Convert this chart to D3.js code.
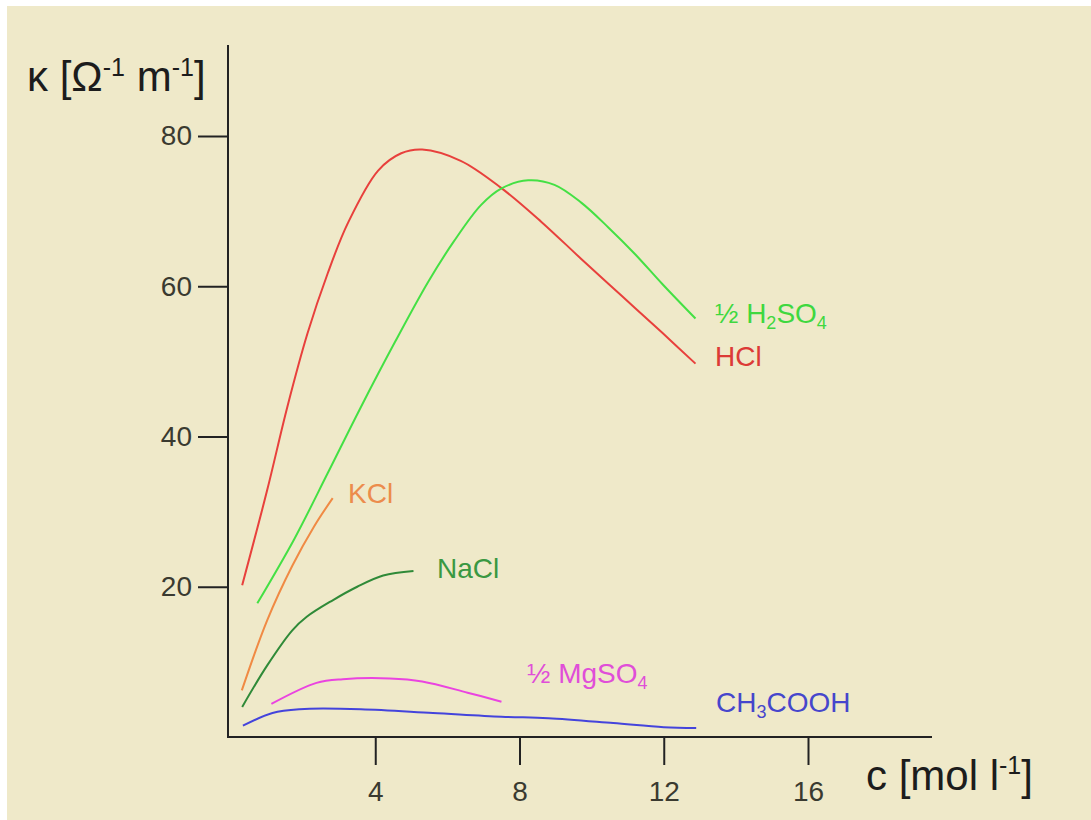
<!DOCTYPE html>
<html>
<head>
<meta charset="utf-8">
<script src="https://cdn.jsdelivr.net/npm/d3@7"></script>
<style>
  body { margin: 0; background: #ffffff; }
  svg { display: block; font-family: "Liberation Sans", Arial, sans-serif; }
</style>
</head>
<body>
<div id="chart"></div>
<script>
// concentration c [mol/l] and conductivity kappa
const conc_hcl = [0.31, 1.0, 1.56, 2.12, 2.68, 3.24, 4.08, 4.72, 5.3, 6.37, 7.49, 8.6, 9.72, 10.84, 11.96, 12.88];
const kappa_hcl = [20.2, 32.8, 43.9, 53.7, 61.7, 68.4, 75.4, 77.7, 78.2, 76.7, 73.1, 68.6, 63.6, 58.7, 53.8, 49.7];

const conc_h2so4 = [0.73, 1.76, 2.68, 3.6, 4.55, 5.47, 6.17, 6.93, 7.49, 8.24, 8.97, 9.72, 10.47, 11.2, 11.96, 12.88];
const kappa_h2so4 = [17.8, 26.4, 35.1, 43.9, 52.6, 60.6, 65.9, 70.8, 73.0, 74.1, 73.5, 71.1, 67.8, 64.3, 60.3, 55.7];

const conc_kcl = [0.3, 1.0, 1.7, 2.3, 2.82];
const kappa_kcl = [6.2, 15.5, 22.8, 28.0, 31.8];

const conc_nacl = [0.31, 1.0, 1.7, 2.1, 2.82, 3.5, 4.22, 5.06];
const kappa_nacl = [4.0, 9.5, 14.2, 16.0, 18.2, 20.0, 21.5, 22.1];

const conc_mgso4 = [1.12, 2.37, 3.1, 4.4, 5.3, 6.56, 7.5];
const kappa_mgso4 = [4.4, 7.2, 7.7, 7.8, 7.4, 5.9, 4.7];

const conc_acetic = [0.33, 1.15, 1.9, 3.6, 5.6, 7.5, 8.8, 10.6, 12.0, 12.9];
const kappa_acetic = [1.5, 3.2, 3.7, 3.7, 3.2, 2.7, 2.5, 1.85, 1.3, 1.2];

const x_ticks = [4, 8, 12, 16];
const y_ticks = [20, 40, 60, 80];

let config_size = {
    svg_width: 1091,
    svg_height: 820,
};

let series = [
    {name: "hcl", c: conc_hcl, k: kappa_hcl, color: "#e8403c", text: "#dc3a36",
     label: [{t: "HCl"}], lx: 715, ly: 366},
    {name: "h2so4", c: conc_h2so4, k: kappa_h2so4, color: "#44e044", text: "#3fd83f",
     label: [{t: "½ H"}, {t: "2", sub: true}, {t: "SO"}, {t: "4", sub: true}], lx: 715, ly: 323},
    {name: "kcl", c: conc_kcl, k: kappa_kcl, color: "#f08a44", text: "#ec8c4c",
     label: [{t: "KCl"}], lx: 348, ly: 503},
    {name: "nacl", c: conc_nacl, k: kappa_nacl, color: "#2f8a38", text: "#3a9842",
     label: [{t: "NaCl"}], lx: 437, ly: 578},
    {name: "mgso4", c: conc_mgso4, k: kappa_mgso4, color: "#ea44e0", text: "#e04ed8",
     label: [{t: "½ MgSO"}, {t: "4", sub: true}], lx: 527, ly: 683},
    {name: "acetic", c: conc_acetic, k: kappa_acetic, color: "#4444dc", text: "#4646cc",
     label: [{t: "CH"}, {t: "3", sub: true}, {t: "COOH"}], lx: 716, ly: 712},
];

let svg = d3.select("#chart")
    .append("svg")
    .attr("width", config_size.svg_width).attr("height", config_size.svg_height);

// beige panel with thin white margin on top and left
svg.append("rect").attr("x", 7).attr("y", 6)
    .attr("width", config_size.svg_width - 7).attr("height", config_size.svg_height - 6)
    .attr("fill", "#efe9c9");

let x = d3.scaleLinear().domain([0, 16]).range([231, 808]);
let y = d3.scaleLinear().domain([0, 80]).range([737, 136]);

// x axis
let x_axis = svg.append("g")
    .attr("transform", `translate(0,${y(0)})`)
    .call(d3.axisBottom(x).tickValues(x_ticks).tickSize(28).tickPadding(16).tickSizeOuter(0));
x_axis.select(".domain").remove();
x_axis.append("line").attr("x1", 228).attr("x2", 932).attr("stroke", "#222").attr("stroke-width", 2);

// y axis
let y_axis = svg.append("g")
    .attr("transform", `translate(228,0)`)
    .call(d3.axisLeft(y).tickValues(y_ticks).tickSize(30).tickPadding(6).tickSizeOuter(0));
y_axis.select(".domain").remove();
y_axis.append("line").attr("y1", 45).attr("y2", y(0) + 1).attr("stroke", "#222").attr("stroke-width", 2);

svg.selectAll(".tick line").attr("stroke", "#222").attr("stroke-width", 2);
svg.selectAll(".tick text")
    .attr("font-family", "Liberation Sans, Arial, sans-serif")
    .attr("font-size", 28).attr("fill", "#3a3a30");

// axis titles
let ytitle = svg.append("text").attr("x", 27).attr("y", 91)
    .attr("font-size", 42).attr("fill", "#1c1c1c");
ytitle.append("tspan").text("κ [Ω");
ytitle.append("tspan").attr("font-size", 25).attr("dy", -15).text("-1");
ytitle.append("tspan").attr("dy", 15).text(" m");
ytitle.append("tspan").attr("font-size", 25).attr("dy", -15).text("-1");
ytitle.append("tspan").attr("dy", 15).text("]");

let xtitle = svg.append("text").attr("x", 866).attr("y", 790)
    .attr("font-size", 42).attr("fill", "#1c1c1c");
xtitle.append("tspan").text("c [mol l");
xtitle.append("tspan").attr("font-size", 25).attr("dy", -16).text("-1");
xtitle.append("tspan").attr("dy", 16).text("]");

// curves
let line = d3.line()
    .x(d => x(d.c))
    .y(d => y(d.k))
    .curve(d3.curveCatmullRom.alpha(0.5));

series.forEach(s => {
    let pts = s.c.map((c, i) => ({c: c, k: s.k[i]}));
    svg.append("path")
        .datum(pts)
        .attr("fill", "none")
        .attr("stroke", s.color)
        .attr("stroke-width", 2)
        .attr("d", line);

    let t = svg.append("text").attr("x", s.lx).attr("y", s.ly)
        .attr("font-size", 28).attr("fill", s.text);
    let shifted = false;
    s.label.forEach(p => {
        let sp = t.append("tspan").text(p.t);
        if (p.sub) {
            sp.attr("font-size", 18).attr("dy", shifted ? 0 : 6);
            shifted = true;
        } else {
            if (shifted) sp.attr("dy", -6);
            shifted = false;
        }
    });
});
</script>
</body>
</html>
